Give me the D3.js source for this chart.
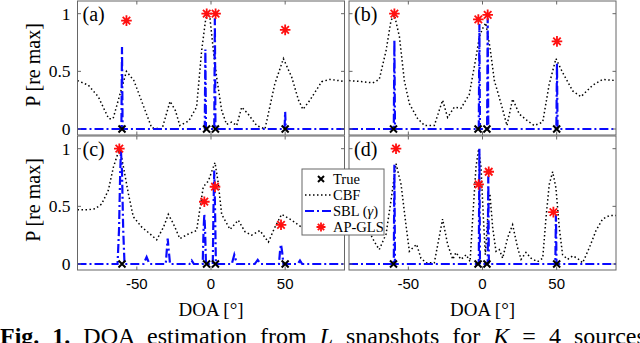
<!DOCTYPE html>
<html><head><meta charset="utf-8">
<script src="https://cdn.jsdelivr.net/npm/d3@7"></script>
<style>body{margin:0;background:#fff;} svg{display:block;}</style>
</head><body><svg id="chart" width="640" height="343"></svg>
<script>
// ---------- data ----------
const xTicks = [-50, 0, 50];
const xTickLabels = ["-50", "0", "50"];
const yTicks = [0, 0.5, 1];
const yTickLabels = ["0", "0.5", "1"];
const panelLabels = ["(a)", "(b)", "(c)", "(d)"];
const trueDOA = [-60, -3, 3, 50];

// CBF spectra [DOA deg, P re max]
const cbfA = [[-90,0.42],[-82.7,0.38],[-76,0.28],[-69,0.09],[-66,0.09],[-62.5,0.25],[-57,0.5],[-52,0.42],[-47,0.25],[-40,0.01],[-33,0],[-27.6,0.24],[-24,0.16],[-21,0.03],[-15,0.07],[-9.7,0.19],[-6.3,0.68],[-3.5,0.96],[-2,0.99],[-0.7,0.96],[1.6,0.68],[3.8,0.45],[7.2,0.16],[10.5,0.04],[14,0.06],[17.3,0.03],[20.7,0.19],[25,0.13],[30.8,0.03],[36.4,0],[43,0.39],[48.8,0.61],[54.4,0.45],[59,0.25],[62,0.17],[66.7,0.25],[74.6,0.41],[80,0.43],[86,0.42],[90,0.41]];
const cbfB = [[-90,0.42],[-80.8,0.41],[-74,0.4],[-69.6,0.43],[-65,0.68],[-61.7,0.94],[-59.4,0.99],[-56,0.8],[-52.7,0.42],[-49.3,0.22],[-43.7,0.09],[-39,0.03],[-32.5,0.03],[-26.9,0.25],[-23.5,0.1],[-19,0.19],[-14.5,0.18],[-8.9,0.3],[-4.4,0.62],[-2.1,0.8],[0,0.87],[2.2,0.92],[5,0.71],[8,0.42],[12.5,0.22],[16.5,0.03],[20.3,0.26],[24.8,0.13],[30.4,0.07],[34.9,0.03],[40.6,0.06],[45,0.39],[49.5,0.61],[54,0.49],[60.8,0.33],[66.4,0.28],[74.3,0.38],[81,0.43],[90,0.42]];
const cbfC = [[-90,0.47],[-82.7,0.47],[-78,0.48],[-73.7,0.52],[-69.2,0.64],[-65.8,0.84],[-62.5,0.97],[-61.3,0.99],[-59,0.84],[-55.7,0.61],[-52.4,0.41],[-46.7,0.32],[-41,0.26],[-36.6,0.21],[-32,0.32],[-28.8,0.43],[-25.4,0.35],[-21,0.22],[-15.3,0.26],[-9.7,0.29],[-5.2,0.67],[-1.8,0.72],[2.7,0.88],[4.9,0.7],[7.2,0.43],[12.8,0.3],[18.4,0.38],[22.9,0.28],[27.4,0.25],[33,0.29],[38.7,0.19],[43.1,0.32],[47.6,0.43],[54.4,0.38],[61,0.32],[68,0.3],[75,0.33],[82,0.4],[90,0.42]];
const cbfD = [[-90,0.42],[-84,0.4],[-78,0.33],[-74,0.22],[-71.8,0.17],[-69.6,0.125],[-65,0.26],[-61.7,0.55],[-58.3,0.87],[-54.9,0.69],[-51.6,0.34],[-49.3,0.11],[-47,0.14],[-44.4,0.17],[-41.5,0.05],[-38,0.01],[-32.5,0.01],[-26.9,0.39],[-23.5,0.17],[-20,0.04],[-17.9,0.1],[-14.5,0.04],[-11,0.08],[-8.4,0.02],[-6.6,0.4],[-4.4,0.84],[-2.6,1.0],[-1,0.84],[0.6,0.4],[1.9,0.08],[3.5,0.4],[5,0.61],[6.9,0.31],[9.1,0.11],[11.3,0.125],[13.6,0.05],[17,0.23],[20.3,0.34],[23.7,0.14],[26,0.04],[29.3,0.1],[32.7,0.05],[37,0.02],[40.6,0.05],[42.8,0.4],[45,0.69],[47.3,0.8],[49.5,0.66],[51.8,0.31],[54,0.08],[57.4,0.04],[60.8,0.07],[64,0.05],[67.5,0.01],[72,0.14],[76.5,0.29],[81,0.39],[85.5,0.42],[90,0.42]];

// SBL (gamma) spectra [DOA deg, P re max]
const sblA = [[-90,0],[-60.4,0],[-60,0.71],[-59.6,0],[-4.2,0],[-3.8,0.69],[-3.4,0],[2.2,0],[2.6,0.96],[3,0],[49.6,0],[50,0.15],[50.4,0],[90,0]];
const sblB = [[-90,0],[-59.8,0],[-59.4,0.77],[-59,0],[-2.5,0],[-2.1,0.91],[-1.7,0],[3.1,0],[3.5,0.96],[3.9,0],[49.8,0],[50.2,0.57],[50.6,0],[90,0]];
const sblC = [[-90,0],[-63,0],[-62,0.3],[-61.2,0.8],[-60.7,0.98],[-60,0.8],[-59.2,0.3],[-58.3,0],[-45.5,0],[-43.4,0.06],[-41.5,0],[-30.5,0],[-29.8,0.12],[-29.2,0.22],[-28.5,0.12],[-27.6,0],[-14.5,0],[-13,0.03],[-11.5,0],[-5.6,0],[-5,0.3],[-4.5,0.43],[-4,0.3],[-3.4,0],[1.2,0],[1.7,0.5],[2.2,0.81],[2.7,0.5],[3.3,0],[14,0],[15.7,0.08],[17.5,0],[29.5,0],[31.5,0.035],[33.5,0],[45.8,0],[46.6,0.12],[47.2,0.17],[48,0.1],[48.8,0],[58.5,0],[60,0.03],[61.5,0],[90,0]];
const sblD = [[-90,0],[-59.8,0],[-59.4,0.86],[-59,0],[-2.5,0],[-2.1,1.0],[-1.7,0],[3.5,0],[3.9,0.76],[4.3,0],[49.1,0],[49.5,0.43],[49.9,0],[90,0]];

// AP-GLS estimates [DOA deg, P re max]
const glsA = [[-57,0.94],[-2.9,1.0],[3.1,1.0],[50,0.86]];
const glsB = [[-59.4,1.0],[-2.8,0.95],[3.5,0.99],[50.2,0.76]];
const glsC = [[-61.8,1.0],[-4.5,0.54],[2.7,0.67],[47.2,0.34]];
const glsD = [[-58.3,1.0],[-2.6,0.69],[4.2,0.8],[47.8,0.45]];

const cbfSeries = [cbfA, cbfB, cbfC, cbfD];
const sblSeries = [sblA, sblB, sblC, sblD];
const glsSeries = [glsA, glsB, glsC, glsD];

// ---------- layout ----------
const svg = d3.select("#chart");
const serif = "Liberation Serif, Times New Roman, serif";
const sans = "Liberation Sans, Arial, sans-serif";
const panelX = [77.5, 349], panelY = [1, 136], PW = 267, PH = 134;
const axisColor = "#666";
const blue = "#0a0aff";

function asterisk(g, x, y, r, color) {
  const d = r * 0.7071;
  g.append("path")
    .attr("d", `M${x-r},${y}L${x+r},${y}M${x},${y-r}L${x},${y+r}M${x-d},${y-d}L${x+d},${y+d}M${x-d},${y+d}L${x+d},${y-d}`)
    .attr("stroke", color).attr("stroke-width", 1.8).attr("fill", "none");
}
function cross(g, x, y, r) {
  g.append("path")
    .attr("d", `M${x-r},${y-r}L${x+r},${y+r}M${x-r},${y+r}L${x+r},${y-r}`)
    .attr("stroke", "#000").attr("stroke-width", 2).attr("fill", "none");
}

for (let i = 0; i < 4; i++) {
  const col = i % 2, row = Math.floor(i / 2);
  const x0 = panelX[col], y0 = panelY[row];
  const x = d3.scaleLinear().domain([-90, 90]).range([x0, x0 + PW]);
  const y = d3.scaleLinear().domain([-0.052, 1.11]).range([y0 + PH, y0]);
  const g = svg.append("g");
  const clipId = "clip" + i;
  svg.append("clipPath").attr("id", clipId).append("rect")
    .attr("x", x0).attr("y", y0).attr("width", PW).attr("height", PH);
  const pg = g.append("g").attr("clip-path", `url(#${clipId})`);

  const line = d3.line().x(d => x(d[0])).y(d => y(d[1]));
  pg.append("path").datum(cbfSeries[i]).attr("d", line)
    .attr("fill", "none").attr("stroke", "#000").attr("stroke-width", 1.5)
    .attr("stroke-dasharray", "1.5,2.5");
  pg.append("path").datum(sblSeries[i]).attr("d", line)
    .attr("fill", "none").attr("stroke", blue).attr("stroke-width", 2.2)
    .attr("stroke-dasharray", "9,3,2,3");
  trueDOA.forEach(t => cross(pg, x(t), y(0), 3.5));
  glsSeries[i].forEach(p => asterisk(pg, x(p[0]), y(p[1]), 5.3, "#ff1010"));

  // box + inward ticks
  g.append("rect").attr("x", x0).attr("y", y0).attr("width", PW).attr("height", PH)
    .attr("fill", "none").attr("stroke", axisColor).attr("stroke-width", 1);
  const tl = 3.5;
  xTicks.forEach(t => {
    g.append("line").attr("x1", x(t)).attr("x2", x(t)).attr("y1", y0 + PH).attr("y2", y0 + PH - tl).attr("stroke", axisColor);
    g.append("line").attr("x1", x(t)).attr("x2", x(t)).attr("y1", y0).attr("y2", y0 + tl).attr("stroke", axisColor);
  });
  yTicks.forEach(t => {
    g.append("line").attr("x1", x0).attr("x2", x0 + tl).attr("y1", y(t)).attr("y2", y(t)).attr("stroke", axisColor);
    g.append("line").attr("x1", x0 + PW).attr("x2", x0 + PW - tl).attr("y1", y(t)).attr("y2", y(t)).attr("stroke", axisColor);
  });
  if (col === 0) {
    yTicks.forEach((t, k) => {
      g.append("text").attr("x", x0 - 7).attr("y", y(t) + 6).attr("text-anchor", "end")
        .attr("font-family", serif).attr("font-size", 17.5).text(yTickLabels[k]);
    });
    g.append("text").attr("transform", `translate(40,${y0 + PH / 2 - 3}) rotate(-90)`)
      .attr("text-anchor", "middle").attr("font-family", serif).attr("font-size", 20)
      .text("P [re max]");
  }
  if (row === 1) {
    xTicks.forEach((t, k) => {
      g.append("text").attr("x", x(t)).attr("y", y0 + PH + 19).attr("text-anchor", "middle")
        .attr("font-family", sans).attr("font-size", 15).text(xTickLabels[k]);
    });
    g.append("text").attr("x", x0 + PW / 2).attr("y", y0 + PH + 46).attr("text-anchor", "middle")
      .attr("font-family", serif).attr("font-size", 19).text("DOA [°]");
  }
  g.append("text").attr("x", x0 + 5).attr("y", y0 + 20).attr("font-family", serif)
    .attr("font-size", 20).text(panelLabels[i]);
}

// ---------- legend ----------
const lg = svg.append("g");
const lx = 302, ly = 169, lw = 82, lh = 66;
lg.append("rect").attr("x", lx).attr("y", ly).attr("width", lw).attr("height", lh)
  .attr("fill", "#fff").attr("stroke", axisColor).attr("stroke-width", 1);
const rows = [179, 195, 211, 227];
cross(lg, 321, rows[0], 3);
lg.append("line").attr("x1", 305).attr("x2", 331).attr("y1", rows[1]).attr("y2", rows[1])
  .attr("stroke", "#000").attr("stroke-width", 1.5).attr("stroke-dasharray", "1.5,2.5");
lg.append("line").attr("x1", 305).attr("x2", 331).attr("y1", rows[2]).attr("y2", rows[2])
  .attr("stroke", blue).attr("stroke-width", 2.2).attr("stroke-dasharray", "9,3,2,3");
asterisk(lg, 321, rows[3], 4.5, "#ff1010");
const legTexts = ["True", "CBF", null, "AP-GLS"];
legTexts.forEach((t, k) => {
  if (t) lg.append("text").attr("x", 333).attr("y", rows[k] + 5).attr("font-family", serif)
    .attr("font-size", 14.5).text(t);
});
const sblText = lg.append("text").attr("x", 333).attr("y", rows[2] + 5)
  .attr("font-family", serif).attr("font-size", 14.5);
sblText.append("tspan").text("SBL (");
sblText.append("tspan").attr("font-style", "italic").text("γ");
sblText.append("tspan").text(")");

// ---------- caption ----------
const cap = svg.append("text").attr("x", 0).attr("y", 344).attr("font-family", serif)
  .attr("font-size", 24).attr("word-spacing", 7);
cap.append("tspan").attr("font-weight", "bold").text("Fig. 1.");
cap.append("tspan").text(" DOA estimation from ");
cap.append("tspan").attr("font-style", "italic").text("L");
cap.append("tspan").text(" snapshots for ");
cap.append("tspan").attr("font-style", "italic").text("K");
cap.append("tspan").text(" = 4 sources");
</script></body></html>
